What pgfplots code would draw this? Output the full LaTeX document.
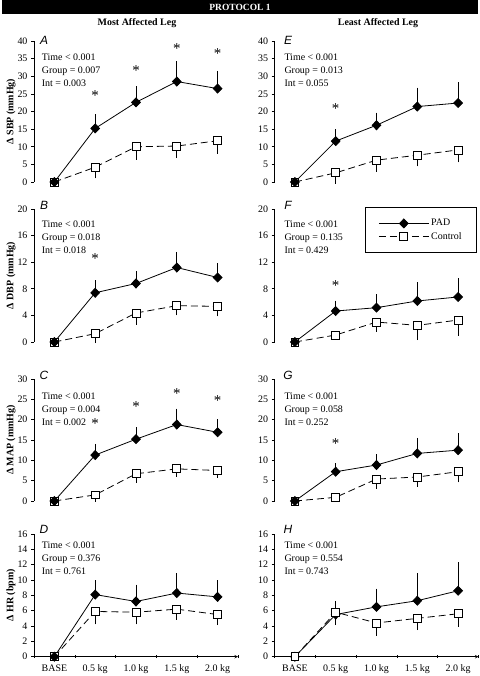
\documentclass[border=0pt]{standalone}
\usepackage{fontspec}
\setmainfont{Liberation Serif}
\newfontfamily\lsans{Liberation Sans}
\usepackage{pgfplots}
\pgfplotsset{compat=1.18}

\newcommand\tfont{\fontsize{10}{12}\selectfont}
\newcommand\stats[5]{%
  \node[anchor=base west,inner sep=0,font=\tfont] at (#1bp,#2bp) {Time < #3};
  \node[anchor=base west,inner sep=0,font=\tfont] at ({#1bp},{#2bp-13.2bp}) {Group = #4};
  \node[anchor=base west,inner sep=0,font=\tfont] at ({#1bp},{#2bp-26.4bp}) {Int = #5};
}
\newcommand\plet[3]{\node[inner sep=0,font=\lsans\itshape\fontsize{12}{12}\selectfont] at (#1bp,#2bp) {#3};}

\pgfplotsset{
  panel/.style={
    scale only axis, width=204bp, anchor=south west,
    xmin=-0.5, xmax=4.5, ymin=0,
    axis y line=left,
    axis line style={-, line width=0.6pt},
    tick align=outside,
    major tick length=3bp,
    minor tick length=3bp,
    ytick pos=left,
    tick style={black, line width=0.6pt},
    /pgf/number format/assume math mode=true,
    ticklabel style={font=\tfont},
    every axis y label/.style={at={(axis description cs:-0.113,0.5)}, rotate=90, anchor=center, font=\bfseries\tfont},
    clip=false,
  },
  toppanel/.style={panel, axis x line=none, xtick=\empty},
  bottompanel/.style={panel,
    axis x line=bottom,
    xtick={0,1,2,3,4},
    xticklabels={BASE,0.5 kg,1.0 kg,1.5 kg,2.0 kg},
    minor xtick={-0.5,0.5,1.5,2.5,3.5,4.5},
    major x tick style={draw=none},
    minor x tick style={draw=black, line width=0.6pt},
    xticklabel style={yshift=-3bp},
  },
  pad/.style={black, line width=0.8pt, mark=diamond*, mark size=4.5,
    mark options={solid, xscale=1.3, fill=black},
    error bars/y dir=plus, error bars/y explicit,
    error bars/error bar style={solid, line width=0.8pt},
    error bars/error mark options={black, mark size=3bp, line width=0.8pt}},
  ctrl/.style={black, line width=0.8pt, dash pattern=on 7bp off 4bp, mark=square*, mark size=4,
    mark options={solid, fill=white},
    error bars/y dir=minus, error bars/y explicit,
    error bars/error bar style={solid, line width=0.8pt},
    error bars/error mark options={black, mark size=3bp, line width=0.8pt}},
  stars/.style={only marks, mark=none, forget plot, nodes near coords={*},
    every node near coord/.style={anchor=center, font=\fontsize{15}{15}\selectfont}},
}

\begin{document}
\begin{tikzpicture}
\path[use as bounding box] (0,0) rectangle (480bp,676bp);

% header
\fill[black] (2bp,662bp) rectangle (478bp,676bp);
\node[text=white,font=\bfseries\fontsize{9.5}{10}\selectfont] at (240bp,669bp) {PROTOCOL 1};
\node[font=\bfseries\tfont] at (137bp,652.7bp) {Most Affected Leg};
\node[font=\bfseries\tfont] at (378bp,652.7bp) {Least Affected Leg};

% ---------------- A
\begin{axis}[toppanel, at={(34bp,494bp)}, height=141bp, ymax=40, ytick={0,5,...,40}, ylabel={Δ SBP (mmHg)}]
\addplot[ctrl] coordinates {(0,0) +- (0,0) (1,4.2) +- (0,2.3) (2,10.0) +- (0,2.8) (3,10.2) +- (0,2.6) (4,11.7) +- (0,2.8)};
\addplot[pad] coordinates {(0,0) +- (0,0) (1,15.2) +- (0,3.1) (2,22.6) +- (0,3.7) (3,28.5) +- (0,4.9) (4,26.5) +- (0,4.2)};
\addplot[stars] coordinates {(1,24.5) (2,31.5) (3,37.7) (4,36.5)};
\end{axis}
% ---------------- E
\begin{axis}[toppanel, at={(274.5bp,494bp)}, height=141bp, ymax=40, ytick={0,5,...,40}]
\addplot[ctrl] coordinates {(0,0) +- (0,0) (1,2.6) +- (0,2.3) (2,6.2) +- (0,2.4) (3,7.6) +- (0,2.3) (4,9.1) +- (0,2.7)};
\addplot[pad] coordinates {(0,0) +- (0,0) (1,11.6) +- (0,2.5) (2,16.1) +- (0,2.7) (3,21.4) +- (0,4.5) (4,22.4) +- (0,5.1)};
\addplot[stars] coordinates {(1,20.7)};
\end{axis}
% ---------------- B
\begin{axis}[toppanel, at={(34bp,334bp)}, height=133bp, ymax=20, ytick={0,4,...,20}, ylabel={Δ DBP (mmHg)}]
\addplot[ctrl] coordinates {(0,0) +- (0,0) (1,1.25) +- (0,0.95) (2,4.36) +- (0,1.3) (3,5.46) +- (0,1.0) (4,5.36) +- (0,1.06)};
\addplot[pad] coordinates {(0,0) +- (0,0) (1,7.4) +- (0,1.4) (2,8.8) +- (0,1.4) (3,11.2) +- (0,1.9) (4,9.7) +- (0,1.7)};
\addplot[stars] coordinates {(1,12.6)};
\end{axis}
% ---------------- F
\begin{axis}[toppanel, at={(274.5bp,334bp)}, height=133bp, ymax=20, ytick={0,4,...,20},
  legend style={at={(axis description cs:0.993,1.015)}, anchor=north east, draw=black, line width=0.8pt,
    font=\tfont, inner xsep=13bp, inner ysep=10bp, row sep=1bp},
  legend cell align=left,
  legend image code/.code={\draw[mark repeat=2,mark phase=2,#1] plot coordinates {(0bp,0bp) (25bp,0bp) (50bp,0bp)};}]
\addplot[ctrl, forget plot] coordinates {(0,0) +- (0,0) (1,1.05) +- (0,0) (2,3.0) +- (0,1.0) (3,2.5) +- (0,1.75) (4,3.3) +- (0,1.9)};
\addplot[pad, forget plot] coordinates {(0,0) +- (0,0) (1,4.66) +- (0,1.1) (2,5.16) +- (0,1.54) (3,6.17) +- (0,2.4) (4,6.77) +- (0,2.4)};
\addplot[stars] coordinates {(1,8.5)};
\addlegendimage{black, line width=0.8pt, mark=diamond*, mark size=4.5, mark options={solid, xscale=1.3, fill=black}}
\addlegendentry{PAD}
\addlegendimage{black, line width=0.8pt, dash pattern=on 7bp off 4bp, mark=square*, mark size=4, mark options={solid, fill=white}}
\addlegendentry{Control}
\end{axis}
% ---------------- C
\begin{axis}[toppanel, at={(34bp,175bp)}, height=122bp, ymax=30, ytick={0,5,...,30}, ylabel={Δ MAP (mmHg)}]
\addplot[ctrl] coordinates {(0,0) +- (0,0) (1,1.5) +- (0,1.0) (2,6.7) +- (0,1.5) (3,7.9) +- (0,1.2) (4,7.5) +- (0,1.1)};
\addplot[pad] coordinates {(0,0) +- (0,0) (1,11.3) +- (0,2.0) (2,15.2) +- (0,2.2) (3,18.8) +- (0,3.2) (4,16.9) +- (0,2.5)};
\addplot[stars] coordinates {(1,19.0) (2,23.1) (3,26.5) (4,24.6)};
\end{axis}
% ---------------- G
\begin{axis}[toppanel, at={(274.5bp,175bp)}, height=122bp, ymax=30, ytick={0,5,...,30}]
\addplot[ctrl] coordinates {(0,0) +- (0,0) (1,0.9) +- (0,0) (2,5.4) +- (0,1.6) (3,5.9) +- (0,1.6) (4,7.2) +- (0,1.9)};
\addplot[pad] coordinates {(0,0) +- (0,0) (1,7.2) +- (0,1.4) (2,8.85) +- (0,1.85) (3,11.7) +- (0,3.1) (4,12.5) +- (0,3.4)};
\addplot[stars] coordinates {(1,14.0)};
\end{axis}
% ---------------- D
\begin{axis}[bottompanel, at={(34bp,19.3bp)}, height=122.7bp, ymax=16, ytick={0,2,...,16}, ylabel={Δ HR (bpm)}]
\addplot[ctrl] coordinates {(0,0) +- (0,0) (1,5.9) +- (0,1.3) (2,5.8) +- (0,1.2) (3,6.2) +- (0,1.0) (4,5.5) +- (0,1.0)};
\addplot[pad] coordinates {(0,0) +- (0,0) (1,8.1) +- (0,1.5) (2,7.2) +- (0,1.8) (3,8.3) +- (0,2.2) (4,7.8) +- (0,1.8)};
\end{axis}
% ---------------- H
\begin{axis}[bottompanel, at={(274.5bp,19.3bp)}, height=122.7bp, ymax=16, ytick={0,2,...,16}]
\addplot[pad] coordinates {(0,0) +- (0,0) (1,5.5) +- (0,1.4) (2,6.5) +- (0,2.0) (3,7.3) +- (0,3.2) (4,8.6) +- (0,3.3)};
\addplot[ctrl] coordinates {(0,0) +- (0,0) (1,5.8) +- (0,1.3) (2,4.4) +- (0,1.3) (3,5.0) +- (0,1.15) (4,5.6) +- (0,1.3)};
\end{axis}

% panel letters
\plet{44}{635.5}{A}
\plet{288}{635.5}{E}
\plet{44}{470.3}{B}
\plet{288}{470.3}{F}
\plet{44}{300.3}{C}
\plet{288}{300.3}{G}
\plet{44}{147}{D}
\plet{288}{147}{H}

% statistics
\stats{41.7}{615.4}{0.001}{0.007}{0.003}
\stats{284.3}{615.4}{0.001}{0.013}{0.055}
\stats{41.7}{448.4}{0.001}{0.018}{0.018}
\stats{284.3}{448.4}{0.001}{0.135}{0.429}
\stats{41.7}{276.7}{0.001}{0.004}{0.002}
\stats{284.3}{276.7}{0.001}{0.058}{0.252}
\stats{41.7}{127.7}{0.001}{0.376}{0.761}
\stats{284.3}{127.7}{0.001}{0.554}{0.743}
\end{tikzpicture}
\end{document}
